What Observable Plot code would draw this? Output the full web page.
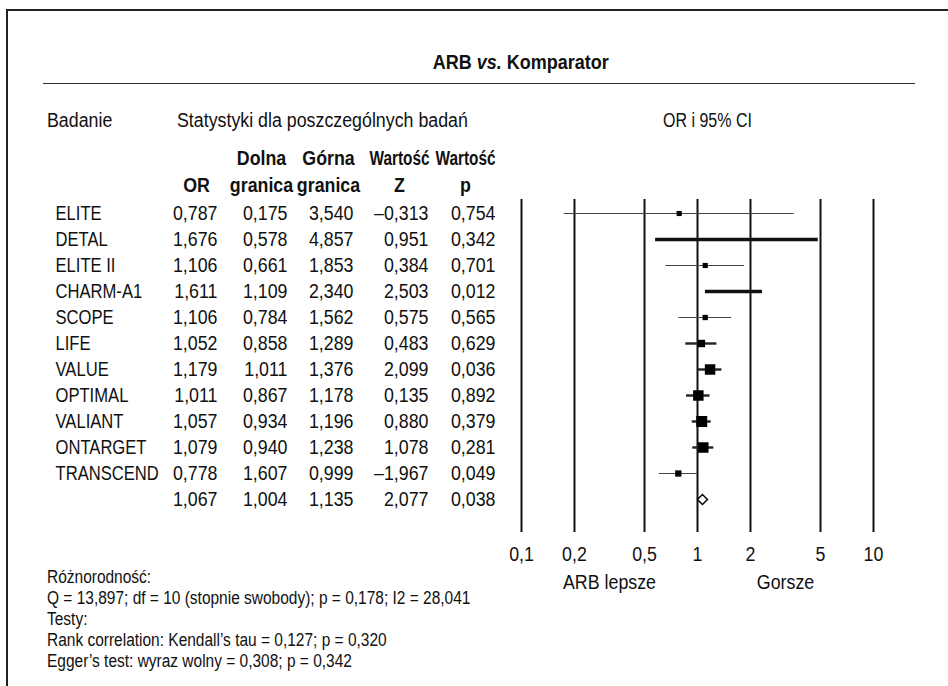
<!DOCTYPE html>
<html>
<head>
<meta charset="utf-8">
<script src="https://cdn.jsdelivr.net/npm/d3@7"></script>
<script src="https://cdn.jsdelivr.net/npm/@observablehq/plot@0.6"></script>
<style>
  html, body { margin: 0; padding: 0; background: #fff; }
  body { width: 948px; height: 686px; position: relative; overflow: hidden;
         font-family: "Liberation Sans", Arial, sans-serif; color: #111; }
  #border { position: absolute; left: 6px; top: 9px; width: 950px; height: 690px; z-index: 5;
            border-top: 2px solid #222; border-left: 2px solid #222; pointer-events: none; }
  #title { position: absolute; left: 0; top: 50px; width: 1042px; text-align: center;
           font-size: 20px; line-height: 24px; font-weight: bold; }
  #title span { display: inline-block; transform: scaleX(0.9); transform-origin: center; }
  #rule { position: absolute; left: 43px; top: 83px; width: 872px; border-top: 1.5px solid #333; }
  .hdr { position: absolute; top: 108px; font-size: 20px; line-height: 24px; white-space: nowrap;
         transform: scaleX(0.89); transform-origin: left center; }
  #chart { position: absolute; left: 0; top: 130px; }
  #notes { position: absolute; left: 47px; top: 567px; font-size: 18px; line-height: 21px; white-space: nowrap;
           transform: scaleX(0.86); transform-origin: left top; }
</style>
</head>
<body>
<div id="border"></div>
<div id="title"><span>ARB <i>vs.</i> Komparator</span></div>
<div id="rule"></div>
<div class="hdr" style="left:47px">Badanie</div>
<div class="hdr" style="left:177px">Statystyki dla poszczególnych badań</div>
<div class="hdr" style="left:663px; transform: scaleX(0.8)">OR i 95% CI</div>
<div id="chart"></div>
<div id="notes"></div>
<script>
// ---- data ----
const studies = ["ELITE", "DETAL", "ELITE II", "CHARM-A1", "SCOPE", "LIFE", "VALUE", "OPTIMAL", "VALIANT", "ONTARGET", "TRANSCEND"];
const orValues    = [0.787, 1.676, 1.106, 1.611, 1.106, 1.052, 1.179, 1.011, 1.057, 1.079, 0.778];
const lowerValues = [0.175, 0.578, 0.661, 1.109, 0.784, 0.858, 1.011, 0.867, 0.934, 0.940, 1.607];
const upperValues = [3.540, 4.857, 1.853, 2.340, 1.562, 1.289, 1.376, 1.178, 1.196, 1.238, 0.999];
const zValues     = [-0.313, 0.951, 0.384, 2.503, 0.575, 0.483, 2.099, 0.135, 0.880, 1.078, -1.967];
const pValues     = [0.754, 0.342, 0.701, 0.012, 0.565, 0.629, 0.036, 0.892, 0.379, 0.281, 0.049];
// lower limit as drawn in the plot (the table prints 1,607 for TRANSCEND, the bar starts near 0,607)
const lowerDrawn  = [0.175, 0.578, 0.661, 1.109, 0.784, 0.858, 1.011, 0.867, 0.934, 0.940, 0.607];
// relative study weights (estimated from the square sizes; no square drawn for DETAL and CHARM-A1)
const weights     = [1.2, null, 1.2, null, 1.3, 2.5, 5.0, 5.0, 5.5, 5.0, 1.8];
const summaryValues = { or: 1.067, lower: 1.004, upper: 1.135, z: 2.077, p: 0.038 };
const xTicks = [0.1, 0.2, 0.5, 1, 2, 5, 10];
const sideLabels = ["ARB lepsze", "Gorsze"];
const columnHeaders = [["", "OR"], ["Dolna", "granica"], ["Górna", "granica"], ["Wartość", "Z"], ["Wartość", "p"]];
const notesLines = [
  "Różnorodność:",
  "Q = 13,897; df = 10 (stopnie swobody); p = 0,178; I2 = 28,041",
  "Testy:",
  "Rank correlation: Kendall’s tau = 0,127; p = 0,320",
  "Egger’s test: wyraz wolny = 0,308; p = 0,342"
];

// ---- build table ----
const SUMMARY = "__summary";
const rows = studies.map((s, i) => ({
  key: s, name: s, or: orValues[i], lower: lowerValues[i], upper: upperValues[i],
  z: zValues[i], p: pValues[i], lo: lowerDrawn[i], hi: upperValues[i], w: weights[i]
}));
const summaryRow = { key: SUMMARY, name: "", ...summaryValues, lo: summaryValues.lower, hi: summaryValues.upper, w: null };
const table = [...rows, summaryRow];

const loc = d3.formatLocale({ decimal: ",", thousands: " ", grouping: [3], minus: "\u2013" });
const f3 = loc.format(".3f");
const tickFmt = d => String(d).replace(".", ",");

const thick = new Set(["DETAL", "CHARM-A1"]);
const lineGroup = d => thick.has(d.key) ? "thick" : (d.w != null && d.w >= 2.5 ? "mid" : "thin");

const FONT = '"Liberation Sans", Arial, sans-serif';
const ML = 521, W = 948, H = 470;
const px = X => X - ML; // offset from the left edge of the plot frame

// column right edges / header centres (page px)
const colRight = [217, 287, 353, 428, 495];
const colCenter = [196, 261, 328, 399, 465];
const colFields = ["or", "lower", "upper", "z", "p"];

const textMarks = colFields.map((f, c) => Plot.text(table, {
  y: "key", text: d => f3(d[f]), frameAnchor: "left", lineAnchor: "middle", dx: px(colRight[c]), textAnchor: "end", fontSize: 20
}));
const headerMarks = columnHeaders.flatMap((h, c) => [
  Plot.text([h[0]], { frameAnchor: "top-left", lineAnchor: "middle", dx: px(colCenter[c]), dy: -41, textAnchor: "middle", fontWeight: "bold", fontSize: 20 }),
  Plot.text([h[1]], { frameAnchor: "top-left", lineAnchor: "middle", dx: px(colCenter[c]), dy: -14, textAnchor: "middle", fontWeight: "bold", fontSize: 20 })
]);

const chart = Plot.plot({
  width: W, height: H,
  marginLeft: ML, marginRight: W - 873, marginTop: 69, marginBottom: H - 402,
  style: { fontFamily: FONT, fontSize: "20px", color: "#111", background: "transparent", overflow: "visible" },
  x: { type: "log", domain: [0.1, 10] },
  y: { type: "point", domain: table.map(d => d.key), range: [83, 369], padding: 0, axis: null },
  r: { domain: [0, 5.5], range: [0, 6.2] },
  marks: [
    Plot.ruleX(xTicks, { stroke: "#111", strokeWidth: 2 }),
    Plot.axisX({ ticks: xTicks, tickFormat: tickFmt, tickSize: 0, tickPadding: 14, fontSize: 20, label: null }),
    Plot.text(sideLabels, { x: (d, i) => i === 0 ? Math.sqrt(0.1) : Math.sqrt(10), text: d => d,
                             frameAnchor: "bottom", lineAnchor: "middle", dy: 50, fontSize: 20 }),
    // study names
    Plot.text(table, { y: "key", text: "name", frameAnchor: "left", lineAnchor: "middle", dx: px(55), textAnchor: "start", fontSize: 20 }),
    ...textMarks,
    ...headerMarks,
    // confidence intervals
    Plot.ruleY(rows.filter(d => lineGroup(d) === "thin"), { y: "key", x1: "lo", x2: "hi", stroke: "#444", strokeWidth: 1.2 }),
    Plot.ruleY(rows.filter(d => lineGroup(d) === "mid"), { y: "key", x1: "lo", x2: "hi", stroke: "#222", strokeWidth: 2.4 }),
    Plot.ruleY(rows.filter(d => lineGroup(d) === "thick"), { y: "key", x1: "lo", x2: "hi", stroke: "#111", strokeWidth: 3.5 }),
    // study squares
    Plot.dot(rows.filter(d => d.w != null), { x: "or", y: "key", r: "w", symbol: "square", fill: "#000", stroke: null }),
    // summary diamond
    Plot.dot([summaryRow], { x: "or", y: "key", r: 4.5, symbol: "diamond2", fill: "white", stroke: "#000", strokeWidth: 1.5 })
  ]
});
document.getElementById("chart").appendChild(chart);

// emulate the condensed typeface of the original: squeeze glyphs horizontally
const K = 0.89, K_NAMES = 0.83;
const nameSet = new Set(studies);
chart.querySelectorAll("text").forEach(t => {
  const len = t.getComputedTextLength();
  if (!len) return;
  const txt = t.textContent;
  const target = txt === "Wartość" ? 60 : len * (nameSet.has(txt) ? K_NAMES : K);
  t.setAttribute("textLength", target.toFixed(2));
  t.setAttribute("lengthAdjust", "spacingAndGlyphs");
});

const notes = document.getElementById("notes");
notesLines.forEach(t => { const d = document.createElement("div"); d.textContent = t; notes.appendChild(d); });
</script>
</body>
</html>
